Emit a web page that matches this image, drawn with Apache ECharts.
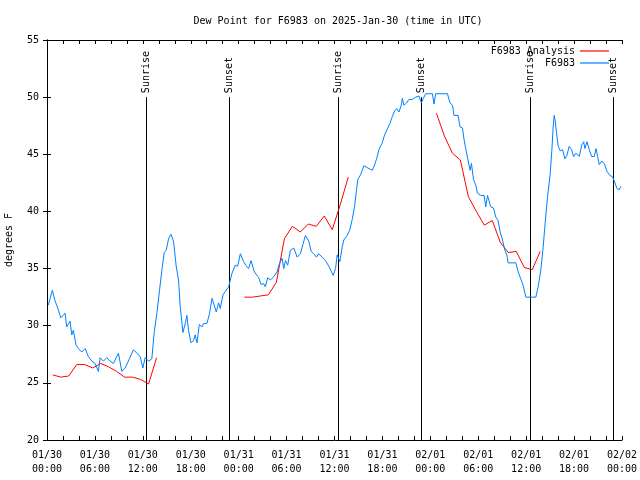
<!DOCTYPE html>
<html>
<head>
<meta charset="utf-8">
<script src="https://cdn.jsdelivr.net/npm/echarts@6/dist/echarts.min.js"></script>
<style>html,body{margin:0;padding:0;background:#fff}#c{width:640px;height:480px}</style>
</head>
<body>
<div id="c"></div>
<script>
// Hours since 2025-01-30 00:00 UTC
const xTickLabels = ['01/30\n00:00','01/30\n06:00','01/30\n12:00','01/30\n18:00','01/31\n00:00','01/31\n06:00','01/31\n12:00','01/31\n18:00','02/01\n00:00','02/01\n06:00','02/01\n12:00','02/01\n18:00','02/02\n00:00'];
const yTicks = [20, 25, 30, 35, 40, 45, 50, 55];

const sunHours = [12.42, 22.83, 36.5, 46.79, 60.46, 70.87];
const sunLabels = ['Sunrise', 'Sunset', 'Sunrise', 'Sunset', 'Sunrise', 'Sunset'];

const analysisHours1 = [0.72,1.72,2.72,3.72,4.72,5.72,6.72,7.72,8.72,9.72,10.72,11.72,12.72,13.72];
const analysisValues1 = [25.7,25.5,25.6,26.6,26.6,26.3,26.7,26.4,26.0,25.5,25.5,25.3,24.9,27.2];
const analysisHours2 = [24.72,25.72,26.72,27.72,28.72,29.72,30.72,31.72,32.72,33.72,34.72,35.72,36.72,37.72];
const analysisValues2 = [32.5,32.5,32.6,32.7,33.8,37.6,38.7,38.2,38.9,38.7,39.6,38.4,40.6,43.0];
const analysisHours3 = [48.76,49.76,50.76,51.76,52.76,53.76,54.76,55.76,56.76,57.76,58.76,59.76,60.76,61.76];
const analysisValues3 = [48.6,46.6,45.1,44.5,41.3,40.0,38.8,39.2,37.3,36.4,36.5,35.1,34.9,36.5];

const obsHours = [0.16,0.66,1.00,1.42,1.72,2.01,2.26,2.47,2.89,3.10,3.30,3.64,3.93,4.35,4.77,5.18,5.61,6.02,6.44,6.65,7.06,7.49,7.90,8.32,8.94,9.37,9.78,10.32,10.83,11.25,11.67,12.00,12.29,12.71,13.13,13.42,13.76,14.09,14.39,14.68,14.93,15.22,15.52,15.84,16.18,16.47,16.68,17.02,17.31,17.52,17.72,18.03,18.35,18.56,18.78,19.07,19.41,19.61,20.03,20.36,20.66,20.86,21.20,21.49,21.70,22.04,22.33,22.74,23.17,23.58,23.87,24.21,24.62,24.99,25.25,25.55,25.97,26.51,26.81,27.13,27.34,27.63,27.97,28.39,28.81,29.14,29.44,29.64,29.86,30.14,30.48,30.90,31.32,31.74,32.08,32.36,32.78,33.08,33.40,33.74,34.03,34.46,34.87,35.29,35.50,35.84,36.13,36.34,36.67,36.97,37.17,37.59,37.92,38.22,38.51,38.76,38.92,39.26,39.48,39.68,39.89,40.18,40.43,40.73,40.93,41.27,41.56,41.98,42.27,42.61,42.94,43.24,43.53,43.78,44.07,44.37,44.49,44.69,45.03,45.32,45.75,46.16,46.57,46.88,47.13,47.42,48.26,48.46,48.67,50.14,50.46,50.77,50.97,51.47,51.72,52.02,52.22,52.43,52.72,52.97,53.15,53.40,53.69,53.90,54.31,54.73,54.94,55.16,55.36,55.57,55.91,56.20,56.49,56.74,57.04,57.33,57.58,57.74,58.71,59.00,59.33,59.67,59.96,61.21,61.50,61.84,62.13,62.38,62.68,63.01,63.22,63.38,63.51,63.64,63.81,64.01,64.26,64.56,64.85,65.10,65.39,65.69,65.94,66.23,66.65,66.95,67.20,67.36,67.61,67.90,68.20,68.53,68.74,68.95,69.15,69.45,69.78,70.12,70.41,70.83,71.12,71.37,71.66,71.87];
const obsValues = [31.8,33.1,32.2,31.4,30.7,30.9,31.1,29.9,30.4,29.2,29.6,28.3,28.0,27.7,28.0,27.3,26.9,26.7,26.0,27.2,26.9,27.2,26.9,26.7,27.6,26.0,26.3,27.1,27.9,27.6,27.3,26.3,27.2,26.9,27.1,29.4,31.1,33.1,34.9,36.4,36.6,37.6,38.0,37.4,35.2,34.0,31.7,29.4,30.2,30.9,29.6,28.5,28.7,29.2,28.5,30.1,29.9,30.2,30.2,31.1,32.4,32.5,31.2,32.0,31.5,32.7,33.0,33.4,34.6,35.3,35.2,36.3,35.6,35.2,35.0,35.7,34.7,34.2,33.6,33.7,33.4,34.2,34.0,34.3,34.7,35.5,35.9,35.0,35.7,35.3,36.6,36.8,36.0,36.3,37.2,37.9,37.4,36.5,36.3,36.0,36.3,36.0,35.7,35.2,35.3,34.4,35.0,36.2,35.6,36.9,37.5,37.9,38.4,39.3,40.4,41.9,42.8,43.2,43.6,44.0,44.1,43.8,43.9,43.6,43.9,44.6,45.4,46.0,46.7,47.2,47.7,48.3,48.8,49.0,48.7,49.3,49.9,49.3,49.5,49.8,49.8,50.0,50.1,49.5,49.9,50.3,50.3,49.4,50.3,50.3,49.5,49.3,48.4,48.4,47.4,47.3,46.3,45.5,44.5,43.6,44.2,42.8,42.3,41.6,41.4,41.4,40.4,41.4,41.3,40.4,40.3,39.5,39.2,38.2,37.5,36.6,36.2,35.5,35.5,34.7,34.1,33.4,32.5,32.5,33.4,34.9,36.9,39.0,41.3,43.3,45.4,47.4,48.4,47.9,46.8,45.7,45.3,45.4,44.6,44.9,45.7,45.4,44.8,45.1,44.8,45.8,46.1,45.5,46.1,45.4,44.8,44.8,45.5,44.8,44.1,44.4,44.2,43.5,43.2,43.0,42.5,42.0,41.9,42.2];

const FONT = '"DejaVu Sans Mono", "Liberation Mono", monospace';
const zip = (xs, ys) => xs.map((x, i) => [x, ys[i]]);
const analysisData = zip(analysisHours1, analysisValues1)
  .concat([[19, null]], zip(analysisHours2, analysisValues2))
  .concat([[43, null]], zip(analysisHours3, analysisValues3));
const obsData = zip(obsHours, obsValues);

const chart = echarts.init(document.getElementById('c'), null, {renderer: 'canvas'});
const xBase = {
  type: 'value', min: 0, max: 72, interval: 6,
  axisLine: {show: true, lineStyle: {color: '#000', width: 1}},
  axisTick: {show: true, inside: true, length: 4, lineStyle: {color: '#000'}},
  minorTick: {show: true, splitNumber: 3, length: 4, lineStyle: {color: '#000'}},
  splitLine: {show: false}
};
const yBase = {
  type: 'value', min: 20, max: 55, interval: 5,
  axisLine: {show: true, lineStyle: {color: '#000', width: 1}},
  axisTick: {show: true, inside: true, length: 4, lineStyle: {color: '#000'}},
  splitLine: {show: false}
};
chart.setOption({
  animation: false,
  backgroundColor: '#fff',
  title: {
    text: 'Dew Point for F6983 on 2025-Jan-30 (time in UTC)',
    left: 333, top: 11, textAlign: 'center',
    textStyle: {fontFamily: FONT, fontSize: 10, fontWeight: 'normal', color: '#000'}
  },
  legend: [
    {data: ['F6983 Analysis'], right: 31, top: 46, orient: 'vertical', align: 'right',
     icon: 'rect', itemWidth: 29, itemHeight: 1.2, padding: 0,
     textStyle: {fontFamily: FONT, fontSize: 10, color: '#000'}},
    {data: ['F6983'], right: 31, top: 58, orient: 'vertical', align: 'right',
     icon: 'rect', itemWidth: 29, itemHeight: 1.2, padding: 0,
     textStyle: {fontFamily: FONT, fontSize: 10, color: '#000'}}
  ],
  grid: {left: 47, right: 18, top: 40, bottom: 40, containLabel: false, outerBoundsMode: 'none'},
  xAxis: [
    Object.assign({}, xBase, {position: 'bottom',
      axisLabel: {show: true, margin: 8, lineHeight: 14, fontFamily: FONT, fontSize: 10, color: '#000',
        formatter: v => xTickLabels[Math.round(v / 6)]}}),
    Object.assign({}, xBase, {position: 'top', axisLabel: {show: false}})
  ],
  yAxis: [
    Object.assign({}, yBase, {position: 'left',
      name: 'degrees F', nameLocation: 'middle', nameGap: 33, nameRotate: 90,
      nameTextStyle: {fontFamily: FONT, fontSize: 10, color: '#000'},
      axisLabel: {show: true, margin: 8, fontFamily: FONT, fontSize: 10, color: '#000',
        formatter: v => (yTicks.indexOf(v) >= 0 ? String(v) : '')}}),
    Object.assign({}, yBase, {position: 'right', axisLabel: {show: false}})
  ],
  series: [
    {
      type: 'custom', xAxisIndex: 0, yAxisIndex: 0, clip: false, silent: true,
      data: sunHours.map(h => [h]),
      encode: {x: 0},
      renderItem: function (params, api) {
        const h = api.value(0);
        const top = api.coord([h, 50]);
        const bot = api.coord([h, 20]);
        const x = Math.round(top[0]) + 0.5;
        return {type: 'group', children: [
          {type: 'line', shape: {x1: x, y1: top[1], x2: x, y2: bot[1]},
           style: {stroke: '#000', lineWidth: 1}},
          {type: 'text', x: x, y: top[1] - 4, rotation: Math.PI / 2,
           style: {text: sunLabels[params.dataIndex], font: '10px ' + FONT, fill: '#000',
             align: 'left', verticalAlign: 'middle'}}
        ]};
      }
    },
    {
      name: 'F6983 Analysis', type: 'line', xAxisIndex: 0, yAxisIndex: 0,
      data: analysisData, showSymbol: false, symbol: 'none', connectNulls: false,
      lineStyle: {color: '#ff0000', width: 1}, itemStyle: {color: '#ff0000'}
    },
    {
      name: 'F6983', type: 'line', xAxisIndex: 0, yAxisIndex: 0,
      data: obsData, showSymbol: false, symbol: 'none',
      lineStyle: {color: '#0080ff', width: 1}, itemStyle: {color: '#0080ff'}
    }
  ]
});
</script>
</body>
</html>
